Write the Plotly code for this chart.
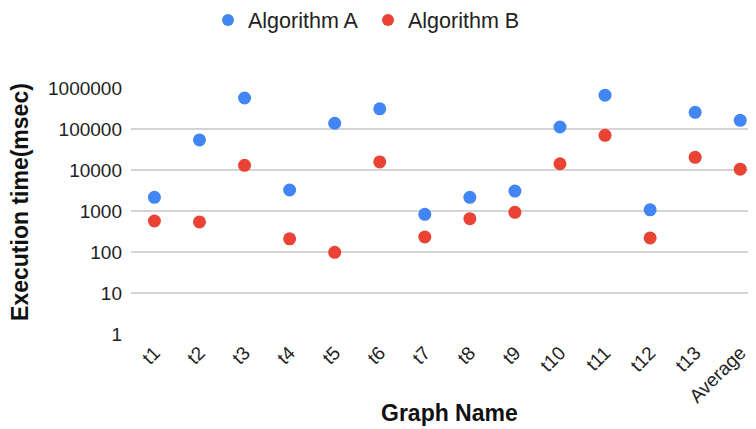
import plotly.graph_objects as go

graphs = ["t1", "t2", "t3", "t4", "t5", "t6", "t7", "t8", "t9", "t10", "t11", "t12", "t13", "Average"]
algo_a = [2150, 54000, 570000, 3250, 138000, 310000, 830, 2150, 3070, 112000, 670000, 1070, 255000, 163000]
algo_b = [570, 540, 13000, 210, 98, 15700, 232, 650, 930, 14200, 70000, 220, 20400, 10500]
y_ticks = [1, 10, 100, 1000, 10000, 100000, 1000000]

fig = go.Figure()
fig.add_trace(go.Scatter(x=graphs, y=algo_a, mode="markers", name="Algorithm A",
                         marker=dict(color="#4285F4", size=13), cliponaxis=False))
fig.add_trace(go.Scatter(x=graphs, y=algo_b, mode="markers", name="Algorithm B",
                         marker=dict(color="#EA4335", size=13), cliponaxis=False))

font = "Liberation Sans, Arial, sans-serif"
fig.update_layout(
    width=748, height=421,
    margin=dict(l=123, r=0, t=80, b=95),
    paper_bgcolor="white", plot_bgcolor="white",
    font=dict(family=font, color="#222222", size=19),
    legend=dict(orientation="h", x=(208 - 131) / 625, xanchor="left", yref="container", y=0.9715,
                yanchor="middle", font=dict(size=21.5, color="#222222"), itemsizing="constant",
                itemwidth=30, entrywidth=115, bgcolor="rgba(0,0,0,0)"),
    showlegend=True,
    annotations=[
        dict(text="<b>Graph Name</b>", xref="paper", yref="paper", x=0.509, y=-0.321,
             xanchor="center", yanchor="middle", showarrow=False,
             font=dict(size=23, color="#111111", family=font)),
        dict(text="<b>Execution time(msec)</b>", xref="paper", yref="paper", x=-0.1776, y=0.537,
             xanchor="center", yanchor="middle", showarrow=False, textangle=-90,
             font=dict(size=23, color="#111111", family=font)),
    ],
)
fig.update_xaxes(
    type="category", range=[-0.52, 13.35], tickangle=-45, showgrid=False, showline=False,
    ticks="", tickfont=dict(size=19), automargin=False, ticklabelstandoff=3,
)
fig.update_yaxes(
    type="log", range=[0, 6], tickvals=y_ticks, ticktext=[str(v) for v in y_ticks],
    showgrid=True, gridcolor="#d4d4d4", gridwidth=1.5, zeroline=False, showline=False,
    ticks="", tickfont=dict(size=19), ticklabelstandoff=8, automargin=False,
)
fig.write_html("out.html")
